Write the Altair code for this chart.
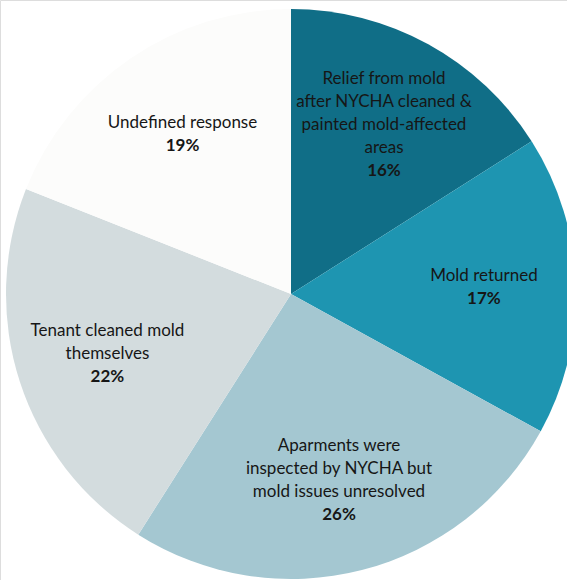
import altair as alt
import pandas as pd

categories = [
    "Relief from mold after NYCHA cleaned & painted mold-affected areas",
    "Mold returned",
    "Aparments were inspected by NYCHA but mold issues unresolved",
    "Tenant cleaned mold themselves",
    "Undefined response",
]
values = [16, 17, 26, 22, 19]
label_lines = [
    ["Relief from mold", "after NYCHA cleaned &", "painted mold-affected", "areas"],
    ["Mold returned"],
    ["Aparments were", "inspected by NYCHA but", "mold issues unresolved"],
    ["Tenant cleaned mold", "themselves"],
    ["Undefined response"],
]
colors = ["#106e87", "#1e95b1", "#a4c7d1", "#d3dcde", "#fcfcfb"]

lines_all = [l + [f"{v}%"] for l, v in zip(label_lines, values)]

df = pd.DataFrame({
    "category": categories,
    "value": values,
    "order": list(range(len(categories))),
    "lines": lines_all,
    "idx": [list(range(len(l))) for l in lines_all],
    "n": [len(l) for l in lines_all],
})

cx, cy = 291, 294
LH = 23
R = 193

pie = alt.Chart(df).mark_arc(outerRadius=285).encode(
    theta=alt.Theta("value:Q", stack=True),
    order=alt.Order("order:Q"),
    x=alt.value(cx),
    y=alt.value(cy),
    color=alt.Color(
        "category:N",
        scale=alt.Scale(domain=categories, range=colors),
        legend=None,
    ),
)

text_base = (
    alt.Chart(df)
    .transform_window(cum="sum(value)", sort=[alt.SortField("order")], frame=[None, 0])
    .transform_calculate(mid="datum.cum - datum.value / 2")
    .transform_flatten(["lines", "idx"])
    .transform_calculate(ypos=f"{cy} + (datum.idx - (datum.n - 1) / 2) * {LH}")
    .encode(
        theta=alt.Theta("mid:Q", stack=False),
        x=alt.value(cx),
        y=alt.Y("ypos:Q", scale=None),
        text="lines:N",
    )
)

text_style = dict(
    radius=R,
    font="Lato",
    fontSize=17,
    align="center",
    baseline="middle",
    color="#161616",
)

labels = text_base.transform_filter("datum.idx < datum.n - 1").mark_text(**text_style)
pcts = text_base.transform_filter("datum.idx == datum.n - 1").mark_text(fontWeight="bold", **text_style)

chart = (
    alt.layer(pie, labels, pcts)
    .properties(width=567, height=580, autosize=alt.AutoSizeParams(type="none"), padding=0)
    .configure_view(stroke=None)
    .configure(background="white")
)

chart.save("out.html", embed_options={"renderer": "svg", "actions": False})
